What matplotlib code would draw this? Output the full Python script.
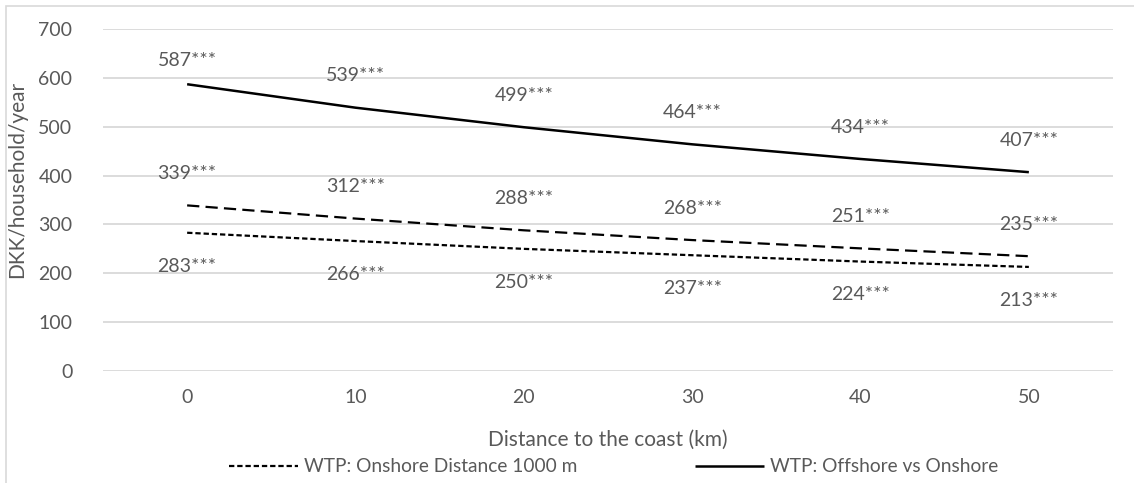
import matplotlib
matplotlib.use("Agg")
import matplotlib.pyplot as plt
from matplotlib.patches import Rectangle

# ---------------------------
# Data
# ---------------------------
distance_km = [0, 10, 20, 30, 40, 50]
wtp_offshore = [587, 539, 499, 464, 434, 407]
wtp_dashed = [339, 312, 288, 268, 251, 235]
wtp_onshore_1000 = [283, 266, 250, 237, 224, 213]
stars = "***"

# ---------------------------
# Style
# ---------------------------
plt.rcParams["font.family"] = ["Lato", "DejaVu Sans"]
TXT = "#595959"
GRID = "#d9d9d9"

fig = plt.figure(figsize=(11.34, 4.83), dpi=100)
ax = fig.add_axes([0.0908, 0.2319, 0.8907, 0.708])

# outer chart border (only left/top visible in the crop)
fig.patches.append(Rectangle((6 / 1134, -0.1), 1.2, 1 - 6 / 483 + 0.1,
                             transform=fig.transFigure, fill=False,
                             edgecolor=GRID, lw=1.2, zorder=0))

pos = list(range(len(distance_km)))

ax.plot(pos, wtp_offshore, color="black", lw=1.8, solid_capstyle="butt",
        label="WTP: Offshore vs Onshore")
ax.plot(pos, wtp_dashed, color="black", lw=1.6, dashes=(5.5, 2.8))
ax.plot(pos, wtp_onshore_1000, color="black", lw=1.6, dashes=(2.4, 1.3),
        label="WTP: Onshore Distance 1000 m")

# data labels (Excel keeps the top one inside the plot area)
for x, v in zip(pos, wtp_offshore):
    dy = 23 if v < 560 else 17
    ax.annotate(f"{v}{stars}", (x, v), xytext=(0, dy), textcoords="offset points",
                ha="center", va="center", fontsize=14, color=TXT)
for x, v in zip(pos, wtp_dashed):
    ax.annotate(f"{v}{stars}", (x, v), xytext=(0, 23), textcoords="offset points",
                ha="center", va="center", fontsize=14, color=TXT)
for x, v in zip(pos, wtp_onshore_1000):
    ax.annotate(f"{v}{stars}", (x, v), xytext=(0, -24), textcoords="offset points",
                ha="center", va="center", fontsize=14, color=TXT)

ax.set_xlim(-0.5, len(pos) - 0.5)
ax.set_ylim(0, 700)
ax.set_yticks(range(0, 701, 100))
ax.set_xticks(pos)
ax.set_xticklabels([str(d) for d in distance_km])
ax.tick_params(length=0, labelsize=14, colors=TXT, pad=13)
ax.tick_params(axis="y", pad=22)
ax.grid(axis="y", color=GRID, lw=1.3)
ax.set_axisbelow(True)
for s in ax.spines.values():
    s.set_visible(False)

ax.set_ylabel("DKK/household/year", fontsize=15, color=TXT)
ax.yaxis.set_label_coords(-0.075, 0.56)
ax.set_xlabel("Distance to the coast (km)", fontsize=15, color=TXT, labelpad=17)

handles, labels = ax.get_legend_handles_labels()
leg = fig.legend(handles[::-1], labels[::-1], loc="center", ncol=2,
                 bbox_to_anchor=(0.541, 1 - 467 / 483), frameon=False,
                 fontsize=13.8, handlelength=3.6, columnspacing=6.1,
                 handletextpad=0.35)
for t in leg.get_texts():
    t.set_color(TXT)

fig.savefig("out.png", dpi=100)
